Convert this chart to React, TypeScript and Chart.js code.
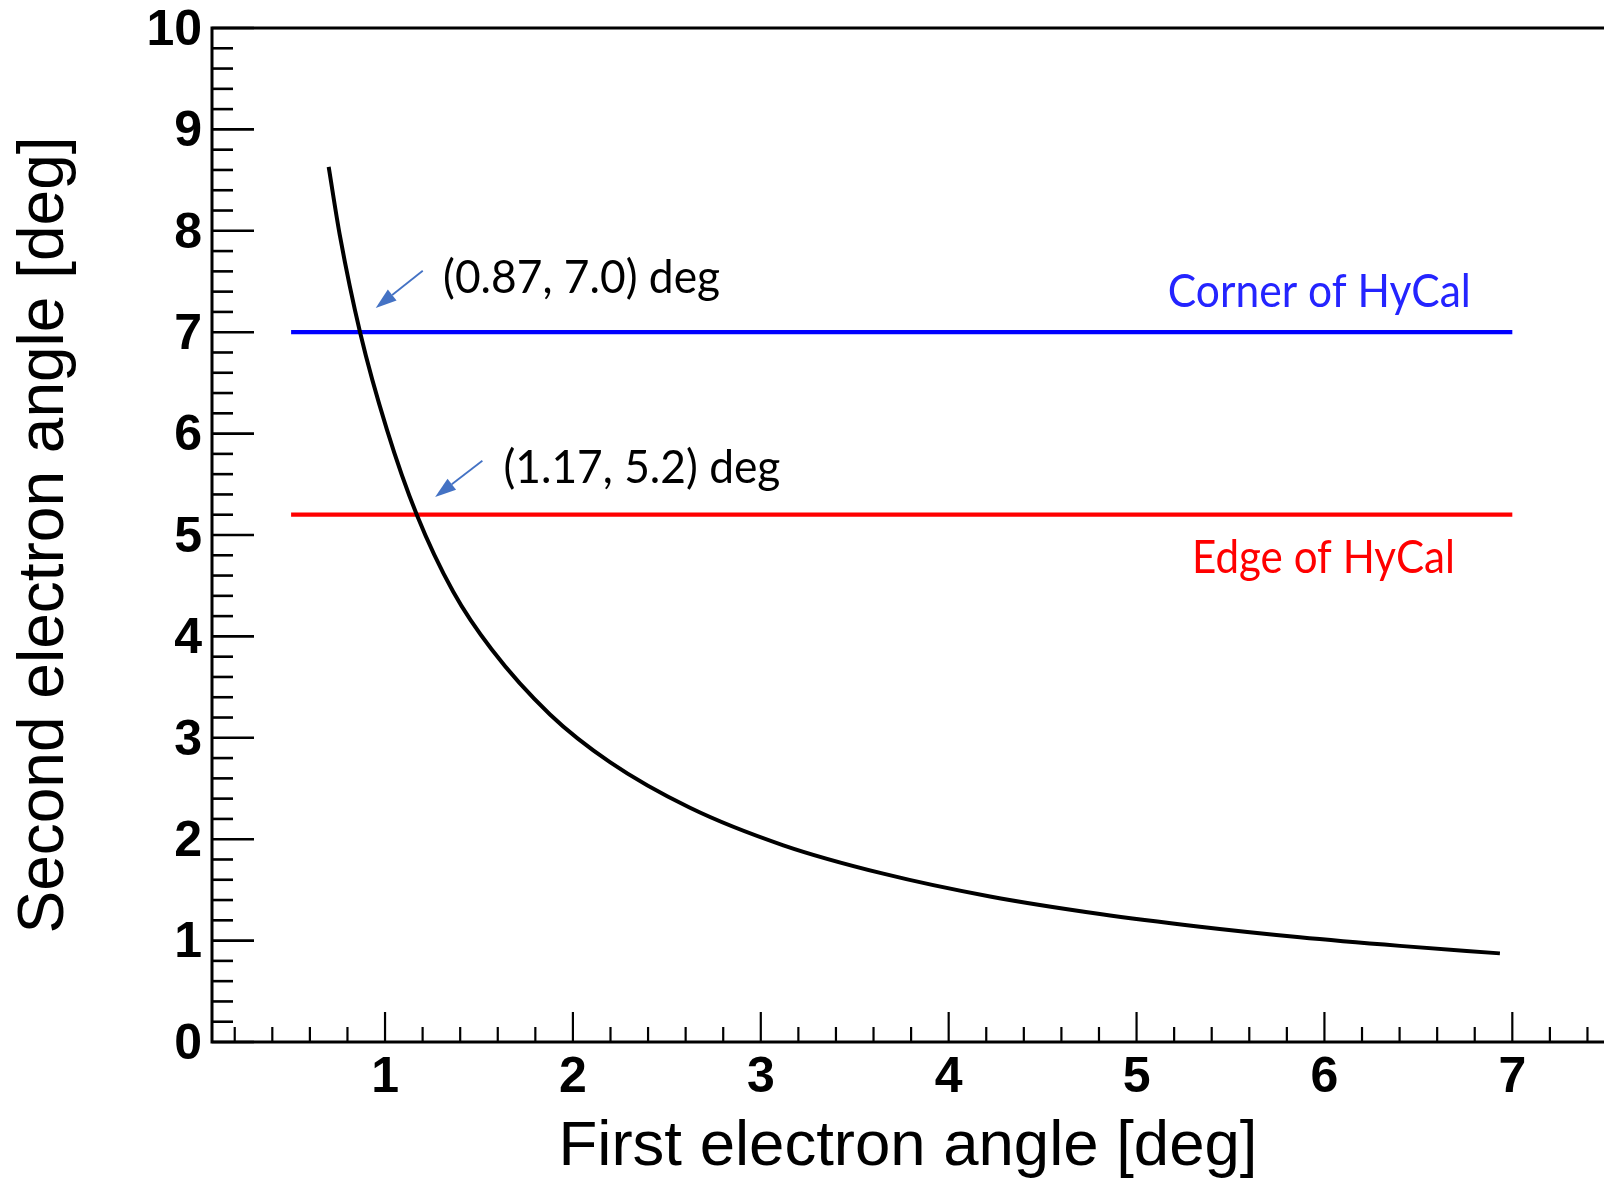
import React, { useEffect, useRef } from "react";
import { Chart, registerables } from "chart.js";

Chart.register(...registerables);

// ---- data ----
const firstAngle = [0.70, 0.76, 0.867, 1.01, 1.169, 1.363, 1.568, 1.878, 2.197, 2.623, 3.12, 3.652, 4.22, 4.805, 5.337, 5.869, 6.402, 6.934];
const secondAngle = [8.63, 7.95, 7.0, 6.04, 5.2, 4.44, 3.87, 3.23, 2.76, 2.31, 1.94, 1.66, 1.435, 1.262, 1.137, 1.033, 0.948, 0.874];

const cornerX = [0.5, 7.0];
const cornerY = [7.0, 7.0];
const edgeX = [0.5, 7.0];
const edgeY = [5.2, 5.2];

const xRange = [0.079, 7.488];
const yRange = [0, 10];
const xTickLabels = [1, 2, 3, 4, 5, 6, 7];
const yTickLabels = [0, 1, 2, 3, 4, 5, 6, 7, 8, 9, 10];
const minorStep = 0.2;

const annotationTexts = ["(0.87, 7.0) deg", "(1.17, 5.2) deg", "Corner of HyCal", "Edge of HyCal"];
const annotationX = [1.309, 1.63, 5.973, 5.995];
const annotationY = [7.384, 5.511, 7.246, 4.624];

const arrowTailX = [1.2007, 1.518];
const arrowTailY = [7.606, 5.732];
const arrowTipX = [0.9505, 1.2667];
const arrowTipY = [7.238, 5.374];

// ---- styles ----
const ROOT_FONT = "'Liberation Sans', Arial, Helvetica, sans-serif";
const NOTE_FONT = "Lato, 'Open Sans', sans-serif";
const NOTE_SIZE = 46;
const annotationStyle = [
  { color: "#000000", align: "left", width: 277 },
  { color: "#000000", align: "left", width: 277 },
  { color: "#2424FF", align: "center", width: 303 },
  { color: "#FF0000", align: "center", width: 263 },
];

const rootFramePlugin = {
  id: "rootFrame",
  beforeDatasetsDraw(chart: any) {
    const { ctx, chartArea, scales } = chart;
    const xs = scales.x;
    const ys = scales.y;
    ctx.save();
    ctx.strokeStyle = "#000";
    ctx.lineCap = "butt";
    // frame
    ctx.lineWidth = 3;
    ctx.beginPath();
    ctx.moveTo(chartArea.right, chartArea.top);
    ctx.lineTo(chartArea.left, chartArea.top);
    ctx.lineTo(chartArea.left, chartArea.bottom);
    ctx.lineTo(chartArea.right, chartArea.bottom);
    ctx.stroke();
    // x ticks (inward)
    ctx.lineWidth = 2.2;
    for (let k = Math.ceil(xs.min / minorStep - 1e-9); k * minorStep <= xs.max + 1e-9; k++) {
      const v = k * minorStep;
      const major = Math.abs(v - Math.round(v)) < 1e-6;
      const px = xs.getPixelForValue(v);
      const len = major ? 30 : 15;
      ctx.beginPath();
      ctx.moveTo(px, chartArea.bottom);
      ctx.lineTo(px, chartArea.bottom - len);
      ctx.stroke();
    }
    // y ticks (inward)
    ctx.lineWidth = 2.6;
    for (let k = Math.ceil(ys.min / minorStep - 1e-9); k * minorStep <= ys.max + 1e-9; k++) {
      const v = k * minorStep;
      const major = Math.abs(v - Math.round(v)) < 1e-6;
      const py = ys.getPixelForValue(v);
      const len = major ? 42 : 21;
      ctx.beginPath();
      ctx.moveTo(chartArea.left, py);
      ctx.lineTo(chartArea.left + len, py);
      ctx.stroke();
    }
    ctx.restore();
  },
};

const annotationPlugin = {
  id: "notes",
  afterDraw(chart: any) {
    const { ctx, scales } = chart;
    const xs = scales.x;
    const ys = scales.y;
    ctx.save();
    // arrows
    for (let i = 0; i < arrowTailX.length; i++) {
      const x1 = xs.getPixelForValue(arrowTailX[i]);
      const y1 = ys.getPixelForValue(arrowTailY[i]);
      const x2 = xs.getPixelForValue(arrowTipX[i]);
      const y2 = ys.getPixelForValue(arrowTipY[i]);
      const ang = Math.atan2(y2 - y1, x2 - x1);
      const headLen = 21;
      const headHalf = 7;
      const bx = x2 - headLen * Math.cos(ang);
      const by = y2 - headLen * Math.sin(ang);
      ctx.strokeStyle = "#4472C4";
      ctx.fillStyle = "#4472C4";
      ctx.lineWidth = 1.8;
      ctx.beginPath();
      ctx.moveTo(x1, y1);
      ctx.lineTo(bx, by);
      ctx.stroke();
      ctx.beginPath();
      ctx.moveTo(x2, y2);
      ctx.lineTo(bx + headHalf * Math.sin(ang), by - headHalf * Math.cos(ang));
      ctx.lineTo(bx - headHalf * Math.sin(ang), by + headHalf * Math.cos(ang));
      ctx.closePath();
      ctx.fill();
    }
    // texts (Calibri-like: Lato, squeezed horizontally to the reference width)
    ctx.textBaseline = "alphabetic";
    ctx.font = `400 ${NOTE_SIZE}px ${NOTE_FONT}`;
    for (let i = 0; i < annotationTexts.length; i++) {
      const st = annotationStyle[i];
      const w = ctx.measureText(annotationTexts[i]).width;
      const sx = st.width / w;
      const px = xs.getPixelForValue(annotationX[i]);
      const py = ys.getPixelForValue(annotationY[i]);
      ctx.save();
      ctx.translate(px, py);
      ctx.scale(sx, 1);
      ctx.fillStyle = st.color;
      ctx.textAlign = st.align as CanvasTextAlign;
      ctx.fillText(annotationTexts[i], 0, 0);
      ctx.restore();
    }
    ctx.restore();
  },
};

export default function App() {
  const ref = useRef<HTMLCanvasElement>(null);
  useEffect(() => {
    const canvas = ref.current;
    if (!canvas) return;
    const curve = firstAngle.map((x, i) => ({ x, y: secondAngle[i] }));
    const corner = cornerX.map((x, i) => ({ x, y: cornerY[i] }));
    const edge = edgeX.map((x, i) => ({ x, y: edgeY[i] }));
    const chart = new Chart(canvas, {
      type: "line",
      data: {
        datasets: [
          {
            label: "Second vs first electron angle",
            data: curve,
            borderColor: "#000000",
            borderWidth: 4,
            pointRadius: 0,
            cubicInterpolationMode: "monotone",
            borderCapStyle: "butt",
            fill: false,
            order: 0,
          },
          {
            label: "Corner of HyCal",
            data: corner,
            borderColor: "#0000FF",
            borderWidth: 4.2,
            pointRadius: 0,
            fill: false,
            order: 1,
          },
          {
            label: "Edge of HyCal",
            data: edge,
            borderColor: "#FF0000",
            borderWidth: 4.2,
            pointRadius: 0,
            fill: false,
            order: 2,
          },
        ],
      },
      options: {
        responsive: false,
        animation: false,
        devicePixelRatio: 1,
        layout: { padding: { top: 28, left: 0, right: 0, bottom: 0 } },
        plugins: {
          legend: { display: false },
          tooltip: { enabled: false },
          title: { display: false },
        },
        scales: {
          x: {
            type: "linear",
            min: xRange[0],
            max: xRange[1],
            grid: { display: false, drawTicks: false },
            border: { display: false },
            ticks: {
              stepSize: 1,
              includeBounds: false,
              autoSkip: false,
              maxRotation: 0,
              padding: 11,
              color: "#000",
              font: { family: ROOT_FONT, weight: "bold", size: 50, lineHeight: 1 },
              callback: (v: any) => (xTickLabels.includes(Number(v)) ? String(v) : ""),
            },
            title: {
              display: true,
              text: "First electron angle [deg]",
              color: "#000",
              font: { family: ROOT_FONT, size: 63.5, lineHeight: 1 },
              padding: { top: 0, bottom: 0 },
            },
            afterFit: (s: any) => {
              s.height = 137;
              s.paddingLeft = 0;
              s.paddingRight = 0;
            },
          },
          y: {
            type: "linear",
            min: yRange[0],
            max: yRange[1],
            grid: { display: false, drawTicks: false },
            border: { display: false },
            ticks: {
              stepSize: 1,
              autoSkip: false,
              padding: 10,
              labelOffset: 3,
              color: "#000",
              font: { family: ROOT_FONT, weight: "bold", size: 50, lineHeight: 1 },
              callback: (v: any) => (yTickLabels.includes(Number(v)) ? String(v) : ""),
            },
            title: {
              display: true,
              text: "Second electron angle [deg]",
              color: "#000",
              font: { family: ROOT_FONT, size: 64, lineHeight: 1 },
              padding: { top: 13, bottom: 0 },
            },
            afterFit: (s: any) => {
              s.width = 212;
              s.paddingTop = 0;
              s.paddingBottom = 0;
            },
          },
        },
      } as any,
      plugins: [rootFramePlugin, annotationPlugin],
    });
    return () => chart.destroy();
  }, []);

  return (
    <div style={{ position: "fixed", left: 0, top: 0, width: 1604, height: 1179, background: "#fff" }}>
      <canvas ref={ref} width={1604} height={1179} style={{ display: "block" }} />
    </div>
  );
}
